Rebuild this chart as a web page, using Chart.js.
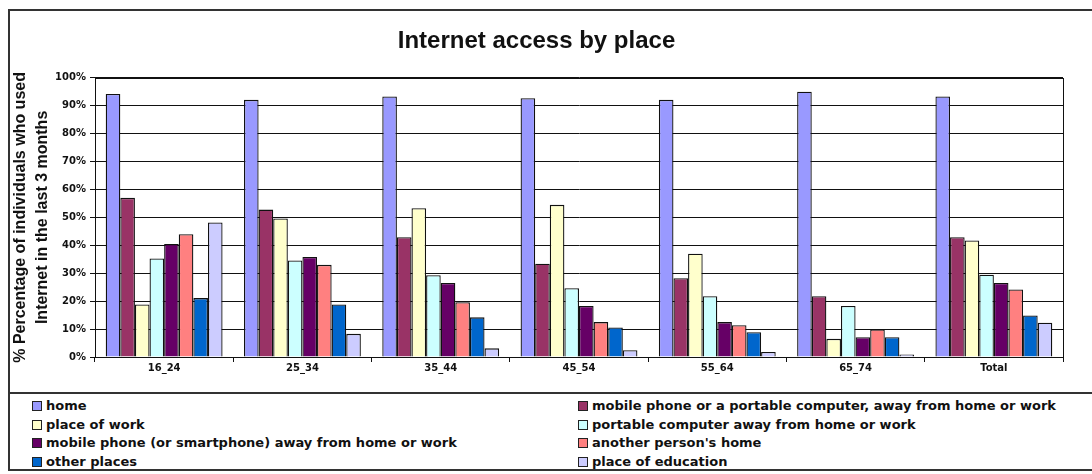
<!DOCTYPE html>
<html>
  <head>
    <title>Internet access by place</title>
    <script src="https://cdn.jsdelivr.net/npm/chart.js"></script>
    <style>
      body {
        margin: 0;
        background: #fff;
        font-family: "Liberation Sans", Arial, sans-serif;
      }

      .frame {
        position: absolute;
        left: 8px;
        top: 9px;
        width: 1100px;
        height: 462px;
        border: 2px solid #333;
        box-sizing: border-box;
      }

      .chart-container {
        position: absolute;
        left: 0;
        top: 0;
        width: 1092px;
        height: 393px;
      }

      .divider {
        position: absolute;
        left: 8px;
        top: 392px;
        width: 1100px;
        height: 0;
        border-top: 2px solid #333;
      }

      #legend {
        position: absolute;
        left: 0;
        top: 397px;
        width: 1092px;
        font-family: "DejaVu Sans", sans-serif;
        font-weight: bold;
        font-size: 13px;
        color: #111;
      }

      .item {
        position: absolute;
        height: 18px;
        line-height: 18px;
        white-space: nowrap;
      }

      .item span.box {
        display: inline-block;
        width: 8px;
        height: 8px;
        border: 1.5px solid #222;
        margin-right: 4px;
        vertical-align: -1px;
      }
    </style>
  </head>
  <body>
    <div class="frame"></div>
    <div class="divider"></div>
    <div class="chart-container">
      <canvas id="myChart"></canvas>
    </div>
    <div id="legend"></div>

    <script>
      // age groups along the x axis
      const groups = ["16_24", "25_34", "35_44", "45_54", "55_64", "65_74", "Total"];

      // % of individuals who used the internet in the last 3 months, per place
      const home = [94.2, 92.1, 93.3, 92.7, 92.1, 95.0, 93.3];
      const mobileOrPortable = [57.0, 52.8, 42.9, 33.4, 28.2, 21.8, 42.9];
      const placeOfWork = [18.8, 49.6, 53.3, 54.5, 37.0, 6.5, 41.7];
      const portableAway = [35.3, 34.6, 29.3, 24.6, 21.8, 18.3, 29.5];
      const mobileAway = [40.5, 35.8, 26.5, 18.3, 12.5, 7.1, 26.5];
      const anotherHome = [44.0, 33.0, 19.6, 12.5, 11.4, 9.9, 24.2];
      const otherPlaces = [21.1, 18.8, 14.2, 10.6, 8.9, 7.1, 14.9];
      const education = [48.2, 8.3, 3.1, 2.4, 1.8, 0.9, 12.3];

      const seriesNames = [
        "home",
        "mobile phone or a portable computer, away from home or work",
        "place of work",
        "portable computer away from home or work",
        "mobile phone (or smartphone) away from home or work",
        "another person's home",
        "other places",
        "place of education",
      ];
      const seriesData = [
        home, mobileOrPortable, placeOfWork, portableAway,
        mobileAway, anotherHome, otherPlaces, education,
      ];
      const seriesColors = [
        "#9999ff", "#993366", "#ffffcc", "#ccffff",
        "#660066", "#ff8080", "#0066cc", "#ccccff",
      ];

      const yTicks = [0, 10, 20, 30, 40, 50, 60, 70, 80, 90, 100];

      const datasets = seriesNames.map((name, i) => ({
        label: name,
        data: seriesData[i],
        backgroundColor: seriesColors[i],
        borderColor: "#111",
        borderWidth: 1.3,
        barPercentage: 1.0,
        categoryPercentage: 0.845,
      }));

      // draws the box round the plot area
      const plotBorder = {
        id: "plotBorder",
        afterDraw(chart) {
          const { ctx, chartArea } = chart;
          ctx.save();
          ctx.strokeStyle = "#111";
          ctx.lineWidth = 1;
          ctx.strokeRect(
            Math.round(chartArea.left) + 0.5,
            Math.round(chartArea.top) + 0.5,
            Math.round(chartArea.right - chartArea.left),
            Math.round(chartArea.bottom - chartArea.top)
          );
          ctx.restore();
        },
      };

      const ctx = document.getElementById("myChart").getContext("2d");
      const chart = new Chart(ctx, {
        type: "bar",
        data: { labels: groups, datasets: datasets },
        plugins: [plotBorder],
        options: {
          responsive: true,
          maintainAspectRatio: false,
          animation: false,
          layout: { padding: { left: 10, right: 29, top: 0, bottom: 0 } },
          plugins: {
            legend: { display: false },
            tooltip: { enabled: false },
            title: {
              display: true,
              text: "Internet access by place",
              color: "#111",
              font: { family: "'Liberation Sans', Arial", size: 24, weight: "bold", lineHeight: 1.2 },
              padding: { top: 27, bottom: 22 },
            },
          },
          scales: {
            x: {
              grid: {
                offset: true,
                drawOnChartArea: false,
                drawTicks: true,
                tickLength: 5,
                color: "#111",
              },
              border: { color: "#111" },
              ticks: {
                color: "#111",
                padding: 0,
                maxRotation: 0,
                font: { family: "'DejaVu Sans'", size: 10, weight: "bold" },
              },
              afterFit(scale) {
                scale.height = 36;
              },
            },
            y: {
              min: 0,
              max: 100,
              afterBuildTicks(scale) {
                scale.ticks = yTicks.map((v) => ({ value: v }));
              },
              grid: { color: "#111", lineWidth: 1, tickLength: 5 },
              border: { color: "#111" },
              ticks: {
                color: "#111",
                padding: 4,
                font: { family: "'DejaVu Sans'", size: 10, weight: "bold" },
                callback: (v) => v + "%",
              },
              title: {
                display: true,
                text: ["% Percentage of individuals who used", "Internet in the last 3 months"],
                color: "#111",
                padding: { top: 0, bottom: 0 },
                font: { family: "'Liberation Sans', Arial", size: 16, weight: "bold", lineHeight: 1.375 },
              },
              afterFit(scale) {
                scale.width = 85;
              },
            },
          },
        },
      });

      // legend in two columns, same order as the datasets
      const legend = document.getElementById("legend");
      chart.data.datasets.forEach((ds, i) => {
        const item = document.createElement("div");
        item.className = "item";
        item.style.left = (i % 2 === 0 ? 32 : 578) + "px";
        item.style.top = Math.floor(i / 2) * 18.6 + "px";
        item.innerHTML =
          '<span class="box" style="background:' + ds.backgroundColor + '"></span>' + ds.label;
        legend.appendChild(item);
      });
    </script>
  </body>
</html>
